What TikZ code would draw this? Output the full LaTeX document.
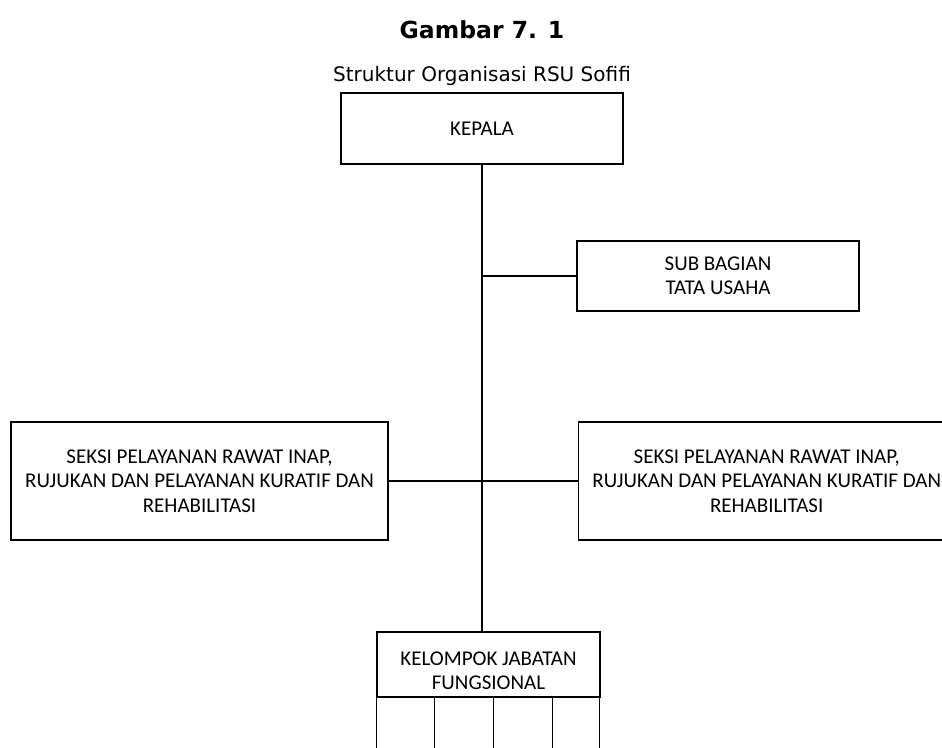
\documentclass[tikz,border=0pt]{standalone}
\usepackage{fontspec}
\setmainfont{Carlito}
\newfontfamily\headFont{DejaVu Sans}
\usetikzlibrary{positioning}
\tikzstyle{chart} = [x = 1pt, y = -1pt]
\tikzstyle{unitBox} = [draw=black, line width=1.2pt, align=center, inner sep=0pt, font=\fontsize{21}{24.5}\selectfont]
\tikzstyle{orgLine} = [color=black, line width=1.2pt]
\tikzstyle{titleText} = [font=\headFont\bfseries\fontsize{23.5}{28}\selectfont]
\tikzstyle{subTitleText} = [font=\headFont\fontsize{20}{24}\selectfont]
\newcommand{\orgUnit}[5]{\node [unitBox, minimum width=#3, minimum height=#4] (#1) at (#2) {#5};}
\newcommand{\cellHeight}{63}

\begin{document}
\begin{tikzpicture}[chart]
  \useasboundingbox (0,0) rectangle (942,747);
  \clip (0,0) rectangle (942,747);
  \node [titleText] (title) at (482,30) {Gambar 7. 1};
  \node [subTitleText] (subTitle) at (482,76) {Struktur Organisasi RSU Sofifi};
  \orgUnit{kepala}{482,128.5}{282pt}{71pt}{KEPALA}
  \orgUnit{tataUsaha}{718,276}{282pt}{70pt}{SUB BAGIAN\\TATA USAHA}
  \orgUnit{seksiLeft}{199.5,481}{377pt}{118pt}{SEKSI PELAYANAN RAWAT INAP,\\RUJUKAN DAN PELAYANAN KURATIF DAN\\REHABILITASI}
  \node [unitBox, minimum width=377pt, minimum height=118pt, right=189pt of seksiLeft] (seksiRight) {SEKSI PELAYANAN RAWAT INAP,\\RUJUKAN DAN PELAYANAN KURATIF DAN\\REHABILITASI};
  \orgUnit{fungsional}{488.5,664.5}{223pt}{65pt}{\raisebox{-6pt}[\height][\depth]{\shortstack{KELOMPOK JABATAN\\[7pt]FUNGSIONAL}}}
  % garis
  \draw [orgLine] (kepala.south) -- (kepala.south |- fungsional.north);
  \draw [orgLine] (kepala.south |- tataUsaha.west) -- (tataUsaha.west);
  \draw [orgLine] (seksiLeft.east) -- (seksiRight.west);
  % sel bawah
  \foreach \cellX in {0,58,117,176,223} {
    \draw [orgLine] ([xshift=\cellX pt]fungsional.south west) -- ++(0,\cellHeight);
  }
\end{tikzpicture}
\end{document}
